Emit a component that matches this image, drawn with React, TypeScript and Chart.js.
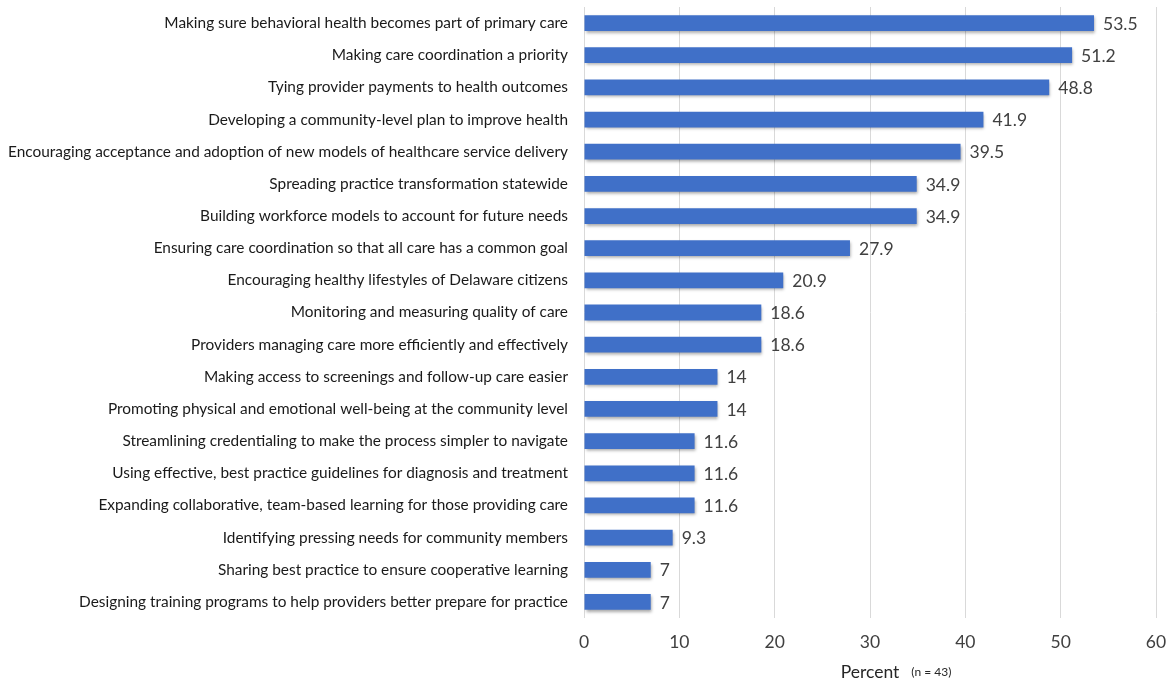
import React, { useEffect, useRef } from "react";
import { Chart, registerables } from "chart.js";

Chart.register(...registerables);

const categories: string[] = [
  "Making sure behavioral health becomes part of primary care",
  "Making care coordination a priority",
  "Tying provider payments to health outcomes",
  "Developing a community-level plan to improve health",
  "Encouraging acceptance and adoption of new models of healthcare service delivery",
  "Spreading practice transformation statewide",
  "Building workforce models to account for future needs",
  "Ensuring care coordination so that all care has a common goal",
  "Encouraging healthy lifestyles of Delaware citizens",
  "Monitoring and measuring quality of care",
  "Providers managing care more efficiently and effectively",
  "Making access to screenings and follow-up care easier",
  "Promoting physical and emotional well-being at the community level",
  "Streamlining credentialing to make the process simpler to navigate",
  "Using effective, best practice guidelines for diagnosis and treatment",
  "Expanding collaborative, team-based learning for those providing care",
  "Identifying pressing needs for community members",
  "Sharing best practice to ensure cooperative learning",
  "Designing training programs to help providers better prepare for practice",
];

const percentValues: number[] = [
  53.5, 51.2, 48.8, 41.9, 39.5, 34.9, 34.9, 27.9, 20.9, 18.6, 18.6, 14, 14,
  11.6, 11.6, 11.6, 9.3, 7, 7,
];

const xTicks: number[] = [0, 10, 20, 30, 40, 50, 60];
const axisTitle = "Percent";
const axisNote = "(n = 43)";

const FONT = "Lato, 'Liberation Sans', sans-serif";

const shadowPlugin = {
  id: "barShadow",
  beforeDatasetsDraw(chart: any) {
    const ctx = chart.ctx;
    ctx.save();
    ctx.shadowColor = "rgba(0,0,0,0.35)";
    ctx.shadowBlur = 3;
    ctx.shadowOffsetX = 1;
    ctx.shadowOffsetY = 2;
  },
  afterDatasetsDraw(chart: any) {
    chart.ctx.restore();
  },
};

const labelPlugin = {
  id: "valueLabels",
  afterDraw(chart: any) {
    const ctx = chart.ctx;
    const meta = chart.getDatasetMeta(0);
    ctx.save();
    ctx.font = `17.5px ${FONT}`;
    ctx.fillStyle = "#404040";
    ctx.textAlign = "left";
    ctx.textBaseline = "middle";
    meta.data.forEach((bar: any, i: number) => {
      ctx.fillText(String(percentValues[i]), bar.x + 9, bar.y + 1);
    });
    const area = chart.chartArea;
    const cx = (area.left + area.right) / 2;
    ctx.font = `17.5px ${FONT}`;
    ctx.fillStyle = "#262626";
    ctx.textAlign = "center";
    ctx.fillText(axisTitle, cx, 672);
    const w = ctx.measureText(axisTitle).width;
    ctx.font = `12px ${FONT}`;
    ctx.textAlign = "left";
    ctx.fillText(axisNote, cx + w / 2 + 12, 672);
    ctx.restore();
  },
};

export default function App() {
  const ref = useRef<HTMLCanvasElement | null>(null);
  useEffect(() => {
    if (!ref.current) return;
    const chart = new Chart(ref.current, {
      type: "bar",
      data: {
        labels: categories,
        datasets: [
          {
            data: percentValues,
            backgroundColor: "#4070C8",
            borderWidth: 0,
            barPercentage: 0.49,
            categoryPercentage: 1,
          },
        ],
      },
      options: {
        indexAxis: "y",
        animation: false,
        responsive: false,
        maintainAspectRatio: false,
        layout: { padding: { left: 0, right: 13, top: 7, bottom: 0 } },
        plugins: {
          legend: { display: false },
          tooltip: { enabled: false },
          title: { display: false },
        },
        scales: {
          x: {
            min: 0,
            max: 60,
            afterBuildTicks(scale: any) {
              scale.ticks = xTicks.map((v) => ({ value: v }));
            },
            afterFit(scale: any) {
              scale.height = 63;
              scale.paddingLeft = 0;
              scale.paddingRight = 0;
              scale.paddingTop = 0;
              scale.paddingBottom = 0;
            },
            grid: { color: "#d9d9d9", lineWidth: 1, drawTicks: false },
            border: { display: false },
            ticks: {
              padding: 14,
              color: "#404040",
              font: { family: FONT, size: 17.5 },
            },
          },
          y: {
            afterFit(scale: any) {
              scale.width = 584;
              scale.paddingLeft = 0;
              scale.paddingRight = 0;
              scale.paddingTop = 0;
              scale.paddingBottom = 0;
            },
            grid: { display: false, drawTicks: false },
            border: { display: false },
            ticks: {
              padding: 16,
              color: "#1a1a1a",
              autoSkip: false,
              font: { family: FONT, size: 15.4 },
            },
          },
        },
      },
      plugins: [shadowPlugin, labelPlugin],
    });
    return () => chart.destroy();
  }, []);
  return (
    <canvas
      ref={ref}
      width={1169}
      height={681}
      style={{ position: "fixed", left: 0, top: 0, width: 1169, height: 681, background: "#fff" }}
    />
  );
}
